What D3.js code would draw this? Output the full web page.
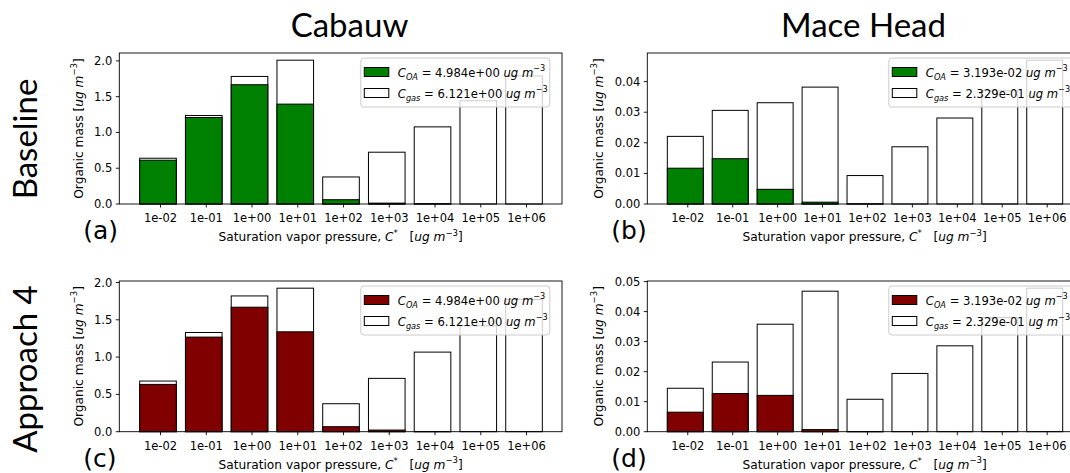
<!DOCTYPE html>
<html>
<head>
<meta charset="utf-8">
<script src="https://cdn.jsdelivr.net/npm/d3@7"></script>
<style>
  body { margin: 0; background: #fff; }
  svg { display: block; }
  text { font-family: "DejaVu Sans", sans-serif; fill: #000; }
  .big { font-family: Lato, "Open Sans", sans-serif; }
</style>
</head>
<body>
<svg width="1070" height="473"></svg>
<script>
// saturation vapour pressure bins
const bins = ["1e-02", "1e-01", "1e+00", "1e+01", "1e+02", "1e+03", "1e+04", "1e+05", "1e+06"];

// particle phase (OA) and total (OA + gas) per bin, ug m-3
const cabauwBaseOA = [0.612, 1.209, 1.667, 1.396, 0.060, 0.012, 0.003, 0, 0];
const cabauwBaseTotal = [0.640, 1.237, 1.783, 2.010, 0.378, 0.724, 1.078, 1.443, 1.790];
const maceBaseOA = [0.0117, 0.0148, 0.0048, 0.0006, 0.00005, 0, 0, 0, 0];
const maceBaseTotal = [0.0221, 0.0306, 0.0331, 0.0382, 0.0093, 0.0187, 0.0281, 0.0370, 0.0470];
const cabauwAppOA = [0.634, 1.268, 1.669, 1.339, 0.067, 0.022, 0.003, 0, 0];
const cabauwAppTotal = [0.679, 1.330, 1.820, 1.924, 0.375, 0.715, 1.067, 1.419, 1.772];
const maceAppOA = [0.0065, 0.0127, 0.0121, 0.0007, 0.00005, 0, 0, 0, 0];
const maceAppTotal = [0.01447, 0.0232, 0.0358, 0.0468, 0.0108, 0.0194, 0.0286, 0.0380, 0.0478];

// legend totals [C_OA, C_gas]
const cabauwSums = [4.984, 6.121];
const maceSums = [3.193e-2, 2.329e-1];

const siteNames = ["Cabauw", "Mace Head"];
const rowNames = ["Baseline", "Approach 4"];

const svg = d3.select("svg");
svg.append("rect").attr("width", 1070).attr("height", 473).attr("fill", "#fff");

// 1.234e+00 style, like matplotlib
function sci(v) {
  const s = v.toExponential(3);
  return s.replace(/e([+-])(\d)$/, "e$10$2");
}

const panels = [
  {tag: "(a)", oa: cabauwBaseOA, total: cabauwBaseTotal, sums: cabauwSums, color: "#008000",
   left: 119.3, right: 562, top: 53, bottom: 204, ylab: 82.5},
  {tag: "(b)", oa: maceBaseOA, total: maceBaseTotal, sums: maceSums, color: "#008000",
   left: 647.3, right: 1082, top: 53, bottom: 204, ylab: 602.5},
  {tag: "(c)", oa: cabauwAppOA, total: cabauwAppTotal, sums: cabauwSums, color: "#800000",
   left: 119.3, right: 562, top: 281, bottom: 431.7, ylab: 82.5},
  {tag: "(d)", oa: maceAppOA, total: maceAppTotal, sums: maceSums, color: "#800000",
   left: 647.3, right: 1082, top: 281, bottom: 431.7, ylab: 602.5}
];

function unitTspans(t, size) {
  t.append("tspan").attr("font-style", "italic").text("ug m");
  t.append("tspan").attr("font-size", size * 0.7).attr("dy", -size * 0.45).text("\u22123");
}

panels.forEach(p => {
  const g = svg.append("g");
  const x = d3.scaleLinear().domain([-0.846, 8.83]).range([p.left, p.right]);
  const step = x(1) - x(0);
  const y = d3.scaleLinear().domain([0, d3.max(p.total) * 1.05]).range([p.bottom, p.top]);

  // total (white) then particle phase on top
  g.selectAll(".tot").data(p.total).enter().append("rect")
    .attr("x", (d, i) => x(i) - step * 0.4)
    .attr("width", step * 0.8)
    .attr("y", d => y(d))
    .attr("height", d => y(0) - y(d))
    .attr("fill", "#fff").attr("stroke", "#000").attr("stroke-width", 1);
  g.selectAll(".oa").data(p.oa).enter().append("rect")
    .attr("x", (d, i) => x(i) - step * 0.4)
    .attr("width", step * 0.8)
    .attr("y", d => y(d))
    .attr("height", d => y(0) - y(d))
    .attr("fill", p.color).attr("stroke", "#000").attr("stroke-width", 1);

  // frame
  g.append("rect")
    .attr("x", p.left).attr("y", p.top)
    .attr("width", p.right - p.left).attr("height", p.bottom - p.top)
    .attr("fill", "none").attr("stroke", "#000").attr("stroke-width", 0.9);

  // x ticks
  const xt = g.selectAll(".xt").data(bins).enter().append("g")
    .attr("transform", (d, i) => `translate(${x(i + 0.055)},${p.bottom})`);
  xt.append("line").attr("y2", 3.5).attr("stroke", "#000").attr("stroke-width", 0.9);
  xt.append("text").attr("y", 18).attr("text-anchor", "middle")
    .attr("font-size", 11.5).text(d => d);

  // y ticks
  const yticks = y.ticks(5), fmt = y.tickFormat(5);
  const yt = g.selectAll(".yt").data(yticks).enter().append("g")
    .attr("transform", d => `translate(${p.left},${y(d)})`);
  yt.append("line").attr("x2", -3.5).attr("stroke", "#000").attr("stroke-width", 0.9);
  yt.append("text").attr("x", -7).attr("dy", "0.35em").attr("text-anchor", "end")
    .attr("font-size", 11.5).text(d => fmt(d));

  // axis labels
  const xl = g.append("text")
    .attr("x", (p.left + p.right) / 2).attr("y", p.bottom + 37)
    .attr("text-anchor", "middle").attr("font-size", 12.2);
  xl.append("tspan").text("Saturation vapor pressure, ");
  xl.append("tspan").attr("font-style", "italic").text("C");
  xl.append("tspan").attr("font-size", 8.5).attr("dy", -5).text("*");
  xl.append("tspan").attr("dy", 5).attr("xml:space", "preserve").text("\u00a0\u00a0\u00a0[");
  unitTspans(xl, 12.2);
  xl.append("tspan").attr("dy", 5.5).text("]");

  const yl = g.append("text")
    .attr("transform", `translate(${p.ylab},${(p.top + p.bottom) / 2}) rotate(-90)`)
    .attr("text-anchor", "middle").attr("font-size", 12.2);
  yl.append("tspan").text("Organic mass [");
  unitTspans(yl, 12.2);
  yl.append("tspan").attr("dy", 5.5).text("]");

  // panel tag
  g.append("text").attr("x", p.left - 36).attr("y", p.bottom + 35)
    .attr("font-family", "Liberation Sans, Arial, sans-serif").attr("font-size", 25).text(p.tag);

  // legend (semi-transparent, the tall bars show through)
  const lx = p.left + 241.5, ly = p.top + 5;
  const lg = g.append("g").attr("transform", `translate(${lx},${ly})`);
  lg.append("rect").attr("width", 189).attr("height", 49).attr("rx", 3)
    .attr("fill", "#fff").attr("fill-opacity", 0.8).attr("stroke", "#ccc").attr("stroke-width", 1);
  const entries = [
    {sub: "OA", fill: p.color, v: p.sums[0]},
    {sub: "gas", fill: "#fff", v: p.sums[1]}
  ];
  entries.forEach((e, k) => {
    const cy = 14 + k * 21;
    lg.append("rect").attr("x", 3.5).attr("y", cy - 4.5).attr("width", 24.5).attr("height", 9)
      .attr("fill", e.fill).attr("stroke", "#000").attr("stroke-width", 1);
    const t = lg.append("text").attr("x", 37).attr("y", cy + 4.5).attr("font-size", 11.6);
    t.append("tspan").attr("font-style", "italic").text("C");
    t.append("tspan").attr("font-style", "italic").attr("font-size", 8.2).attr("dy", 3).text(e.sub);
    t.append("tspan").attr("dy", -3).text(" = " + sci(e.v) + " ");
    unitTspans(t, 11.6);
  });
});

// column titles and row labels
const colCenters = [349.5, 863.5];
svg.selectAll(".title").data(siteNames).enter().append("text")
  .attr("class", "big").attr("x", (d, i) => colCenters[i]).attr("y", 36.5)
  .attr("text-anchor", "middle").attr("font-size", 33).text(d => d);

const rowCenters = [139, 369];
svg.selectAll(".row").data(rowNames).enter().append("text")
  .attr("class", "big").attr("text-anchor", "middle").attr("font-size", 33)
  .attr("transform", (d, i) => `translate(37,${rowCenters[i]}) rotate(-90)`)
  .text(d => d);
</script>
</body>
</html>
